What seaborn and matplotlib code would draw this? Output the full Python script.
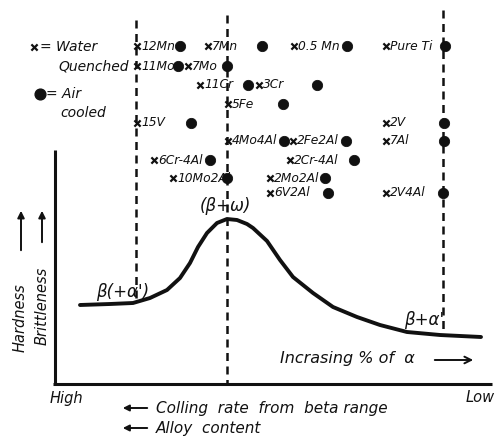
import matplotlib
matplotlib.use("Agg")
import matplotlib.pyplot as plt
import seaborn as sns
import numpy as np
import pandas as pd

sns.set_theme(style="white")
plt.rcParams['font.family'] = ['DejaVu Sans']

# ---- data (schematic coordinates, pixel-like units, y grows downward) ----
alloys = ["12Mn", "7Mn", "0.5 Mn", "Pure Ti",
          "11Mo", "7Mo",
          "11Cr", "3Cr",
          "5Fe",
          "15V", "2V",
          "4Mo4Al", "2Fe2Al", "7Al",
          "6Cr-4Al", "2Cr-4Al",
          "10Mo2Al", "2Mo2Al",
          "6V2Al", "2V4Al"]
water_x = [137, 208, 294, 386,
           137, 188,
           200, 259,
           228,
           137, 386,
           228, 293, 386,
           154, 290,
           173, 270,
           270, 386]
air_x = [180, 262, 347, 445,
         178, 227,
         248, 317,
         283,
         191, 444,
         284, 346, 444,
         210, 354,
         227, 325,
         328, 443]
row_y = [46, 46, 46, 46,
         66, 66,
         85, 85,
         104,
         123, 123,
         141, 141, 141,
         160, 160,
         178, 178,
         193, 193]

curve_x = [80, 110, 133, 150, 167, 180, 190, 198, 207, 217, 227, 237, 247,
           253, 267, 280, 293, 313, 333, 357, 380, 407, 440, 481]
curve_y = [305, 304, 303, 298, 290, 278, 263, 247, 233, 223, 219, 220, 224,
           228, 241, 260, 277, 293, 307, 317, 325, 332, 335, 337]

dash_x = [136, 227, 443]
dash_top = [20, 15, 10]
dash_bottom = [302, 383, 334]

fig = plt.figure(figsize=(4.98, 4.42), dpi=100)
ax = fig.add_axes([0, 0, 1, 1])
ax.set_xlim(0, 498)
ax.set_ylim(442, 0)
ax.axis("off")

ink = "#111111"
# axes frame
ax.plot([55, 55], [150, 384], color=ink, lw=2.2, solid_capstyle="butt")
ax.plot([53, 492], [384, 384], color=ink, lw=2.2, solid_capstyle="butt")

# dashed guide lines
for x, t, b in zip(dash_x, dash_top, dash_bottom):
    ax.plot([x, x], [t, b], color=ink, lw=1.8, ls=(0, (3.2, 2.2)))

# curve
cdf = pd.DataFrame({"x": curve_x, "y": curve_y})
sns.lineplot(data=cdf, x="x", y="y", ax=ax, color=ink, lw=2.8, sort=False,
             estimator=None)
ax.lines[-1].set_solid_joinstyle("round")
ax.lines[-1].set_solid_capstyle("round")

# markers
mdf = pd.DataFrame({"alloy": alloys, "wx": water_x, "ax": air_x, "y": row_y})
sns.scatterplot(data=mdf, x="wx", y="y", ax=ax, marker="x", color=ink, s=20,
                linewidth=1.6)
sns.scatterplot(data=mdf, x="ax", y="y", ax=ax, marker="o", color=ink, s=55,
                edgecolor=ink)
for a, x, y in zip(alloys, water_x, row_y):
    ax.text(x + 4, y, a, fontsize=8.8, style="italic", ha="left", va="center",
            color=ink)

ax.set_xlabel("")
ax.set_ylabel("")

# legend (drawn as text)
ax.scatter([34], [47], marker="x", color=ink, s=20, linewidth=1.6)
ax.text(40, 47, "= Water", fontsize=10, style="italic", va="center", color=ink)
ax.text(58, 67, "Quenched", fontsize=10, style="italic", va="center", color=ink)
ax.scatter([40], [94], marker="o", color=ink, s=60)
ax.text(46, 94, "= Air", fontsize=10, style="italic", va="center", color=ink)
ax.text(60, 113, "cooled", fontsize=10, style="italic", va="center", color=ink)

# y axis labels and arrows
ax.text(20, 318, "Hardness", rotation=90, fontsize=10.5, style="italic",
        ha="center", va="center", color=ink)
ax.text(42, 306, "Brittleness", rotation=90, fontsize=10.5, style="italic",
        ha="center", va="center", color=ink)
for x, b in [(21, 253), (42, 245)]:
    ax.annotate("", xy=(x, 208), xytext=(x, b),
                arrowprops=dict(arrowstyle="-|>", color=ink, lw=1.4,
                                mutation_scale=10))

# phase labels
ax.text(96, 292, "β(+α')", fontsize=12, style="italic", ha="left", va="center",
        color=ink)
ax.text(225, 206, "(β+ω)", fontsize=12, style="italic", ha="center",
        va="center", color=ink)
ax.text(404, 320, "β+α'", fontsize=12, style="italic", ha="left", va="center",
        color=ink)

# x axis texts
ax.text(280, 359, "Incrasing % of  α", fontsize=11.5, style="italic",
        ha="left", va="center", color=ink)
ax.annotate("", xy=(476, 360), xytext=(432, 360),
            arrowprops=dict(arrowstyle="->", color=ink, lw=1.4))
ax.text(50, 398, "High", fontsize=10.5, style="italic", ha="left", va="center",
        color=ink)
ax.text(466, 398, "Low", fontsize=10.5, style="italic", ha="left", va="center",
        color=ink)
ax.annotate("", xy=(120, 408), xytext=(150, 408),
            arrowprops=dict(arrowstyle="-|>", color=ink, lw=1.4,
                            mutation_scale=9))
ax.text(156, 409, "Colling  rate  from  beta range", fontsize=11,
        style="italic", ha="left", va="center", color=ink)
ax.annotate("", xy=(120, 428), xytext=(150, 428),
            arrowprops=dict(arrowstyle="-|>", color=ink, lw=1.4,
                            mutation_scale=9))
ax.text(156, 429, "Alloy  content", fontsize=11, style="italic", ha="left",
        va="center", color=ink)

fig.savefig("out.png", dpi=100)
